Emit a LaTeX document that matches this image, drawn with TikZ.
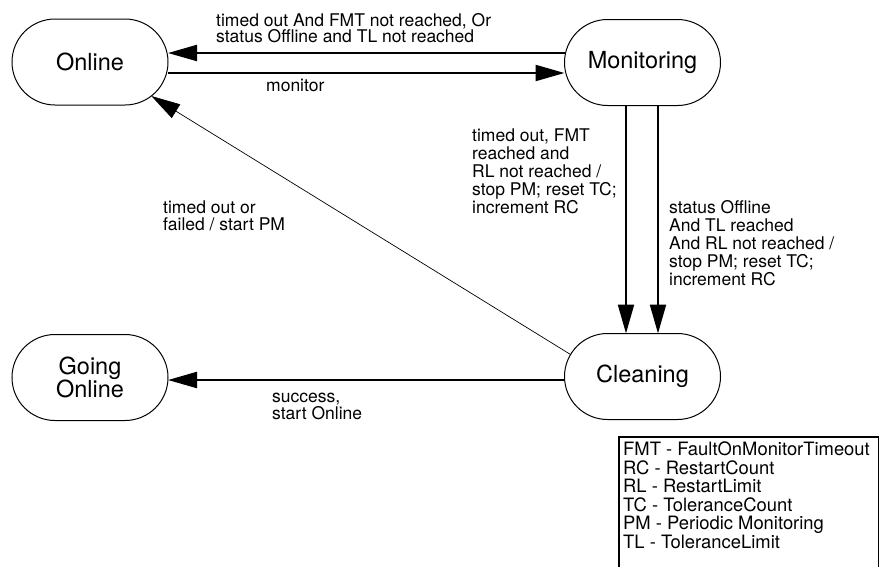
\documentclass[tikz,border=0pt]{standalone}
\usepackage{fontspec}
\setmainfont{TeX Gyre Heros}
\usetikzlibrary{shapes.misc,arrows.meta}
\tikzset{
  state/.style={rounded rectangle, draw, line width=1pt, minimum width=156pt,
    minimum height=86pt, inner sep=0pt, outer sep=0pt, align=center,
    font=\fontsize{23.5}{21}\selectfont},
  trans/.style={line width=2.2pt, -{Triangle[length=29pt,width=16pt]}},
  thintrans/.style={line width=0.7pt, -{Triangle[length=29pt,width=16pt]}},
  lbl/.style={anchor=base west, inner sep=0pt, align=left,
    font=\fontsize{17.5}{18}\selectfont},
  legendbox/.style={draw, line width=1.6pt, anchor=north west,
    minimum width=260pt, minimum height=140pt, inner sep=0pt}
}
\begin{document}
\begin{tikzpicture}[x=1pt,y=-1pt]
\useasboundingbox (0,0) rectangle (879,566);
% states
\node[state] (onl) at (90,62) {Online};
\node[state] (mon) at (642.5,62.5) {Monitoring};
\node[state] (cle) at (642.5,376.5) {Cleaning};
\node[state] (gon) at (90,377.5) {Going\\Online};
% transitions
\draw[trans] ([yshift=9.5pt]mon.west) -- ([yshift=9.5pt]mon.west -| onl.east);
\draw[trans] ([yshift=-11pt]onl.east) -- ([yshift=-11pt]onl.east -| mon.west);
\draw[trans] ([xshift=-16.5pt]mon.south) -- ([xshift=-16.5pt]mon.south |- cle.north);
\draw[trans] ([xshift=15.5pt]mon.south) -- ([xshift=15.5pt]mon.south |- cle.north);
\draw[trans] ([yshift=-3.5pt]cle.west) -- ([yshift=-3.5pt]cle.west -| gon.east);
\draw[thintrans] (cle.163) -- (onl.-29.5);
% labels (anchor = baseline of the last line)
\node[lbl, font=\fontsize{17.5}{16}\selectfont] (ltop) at (216,42)
  {timed out And FMT not reached, Or\\status Offline and TL not reached};
\node[lbl] (lmon) at (266,91) {monitor};
\node[lbl] (lleft) at (472,213)
  {timed out, FMT\\reached and\\RL not reached /\\stop PM; reset TC;\\increment RC};
\node[lbl] (lright) at (669,285)
  {status Offline\\And TL reached\\And RL not reached /\\stop PM; reset TC;\\increment RC};
\node[lbl, font=\fontsize{17.5}{17}\selectfont] (ldiag) at (163,230)
  {timed out or\\failed / start PM};
\node[lbl, font=\fontsize{17.5}{17}\selectfont] (lbot) at (272,419)
  {success,\\start Online};
% legend
\node[legendbox] (legbox) at (618,436) {};
\node[lbl, font=\fontsize{18.4}{18.5}\selectfont] (leg) at (623,548)
  {FMT - FaultOnMonitorTimeout\\RC - RestartCount\\RL - RestartLimit\\TC - ToleranceCount\\PM - Periodic Monitoring\\TL - ToleranceLimit};
\end{tikzpicture}
\end{document}
